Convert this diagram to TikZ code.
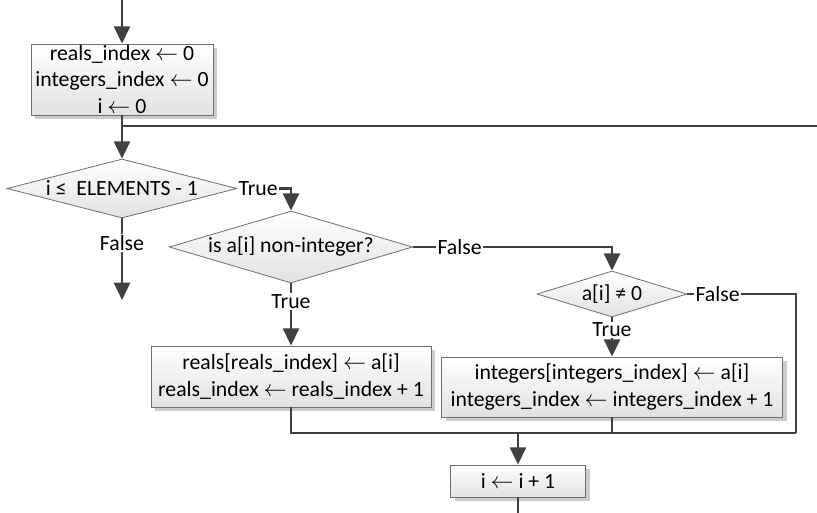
\documentclass[tikz,border=0pt]{standalone}
\usepackage{fontspec}
\setmainfont{Carlito}
\usetikzlibrary{shapes.geometric,arrows.meta,shadows}
\definecolor{lc}{HTML}{404040}
\definecolor{bc}{HTML}{6E6E6E}
\definecolor{bot}{HTML}{E2E2E2}
\newcommand\fs{\fontsize{16.3pt}{19.8pt}\selectfont}
\newcommand\la{\ensuremath{\leftarrow}}
\begin{document}
\begin{tikzpicture}[x=0.75pt,y=-0.75pt,
 line/.style={draw=lc, line width=1.9pt},
 arr/.style={line, -{Triangle[length=13pt,width=12pt]}},
 box/.style={rectangle, draw=bc, line width=0.6pt, top color=white, bottom color=bot,
   drop shadow={shadow xshift=3pt, shadow yshift=-3pt, fill=gray!40, opacity=1},
   align=center, inner sep=0pt, font=\fs},
 dec/.style={diamond, draw=bc, line width=0.6pt, top color=white, bottom color=bot,
   inner sep=0pt, aspect=4, font=\fs},
 lab/.style={fill=white, inner sep=1pt, font=\fs}
]
\fill[white] (0,0) rectangle (817,512);
\useasboundingbox (0,0) rectangle (817,512);

% nodes
\node[box, minimum width=136.5pt, minimum height=53.25pt] (b1) at (122,79.5)
  {reals\_index \la{} 0\\integers\_index \la{} 0\\i \la{} 0};
\node[dec, minimum width=172.5pt, minimum height=44.25pt] (d1) at (122,188.5) {i ≤~ ELEMENTS - 1};
\node[dec, minimum width=181.5pt, minimum height=54pt] (d2) at (291,247) {is a[i] non-integer?};
\node[dec, minimum width=112.5pt, minimum height=34.5pt] (d3) at (612,294) {a[i] ≠ 0};
\node[box, minimum width=210pt, minimum height=45.75pt] (b2) at (291,376.5)
  {reals[reals\_index] \la{} a[i]\\reals\_index \la{} reals\_index + 1};
\node[box, minimum width=255.75pt, minimum height=45pt] (b3) at (612,387)
  {integers[integers\_index] \la{} a[i]\\integers\_index \la{} integers\_index + 1};
\node[box, minimum width=101.25pt, minimum height=24pt] (b4) at (518,481) {i \la{} i + 1};

% coordinates
\coordinate (top) at (122,0);
\coordinate (j1) at (122,126);
\coordinate (loopR) at (822,126);
\coordinate (fend) at (122,300);
\coordinate (jr) at (796,433);
\coordinate (jm) at (518,433);
\coordinate (bend) at (518,516);

% connectors
\draw[arr] (top) -- (b1);
\draw[line] (b1.south) -- (j1);
\draw[line] (loopR) -- (j1);
\draw[arr] (j1) -- (d1.north);
\draw[arr] (d1.east) -| node[lab, pos=0.194] {True} (d2.north);
\draw[arr] (d1.south) -- node[lab, pos=0.3] {False} (fend);
\draw[arr] (d2.south) -- node[lab, pos=0.29] {True} (b2.north);
\draw[arr] (d2.east) -| node[lab, pos=0.117] {False} (d3.north);
\draw[arr] (d3.south) -- node[lab, pos=0.32] {True} (b3.north);
\draw[line] (d3.east) -| node[lab, pos=0.139] {False} (jr);
\draw[line] (b2.south) |- (jr);
\draw[line] (b3.south) -- (b3.south |- jm);
\draw[arr] (jm) -- (b4.north);
\draw[line] (b4.south) -- (bend);
\end{tikzpicture}
\end{document}
